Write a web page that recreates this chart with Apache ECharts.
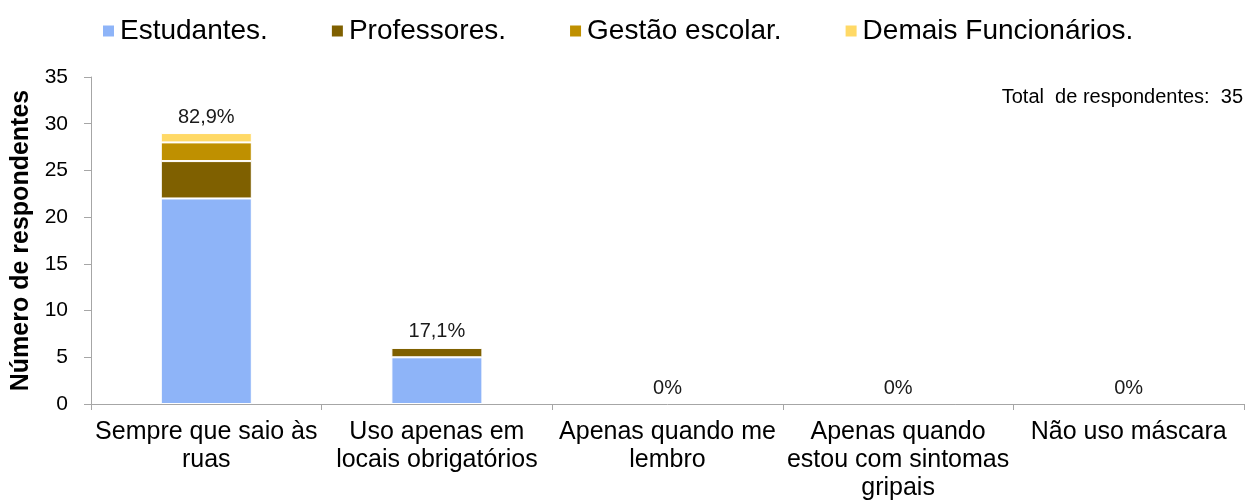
<!DOCTYPE html>
<html>
<head>
<meta charset="utf-8">
<script src="https://cdn.jsdelivr.net/npm/echarts@6/dist/echarts.min.js"></script>
<style>
html,body{margin:0;padding:0;background:#fff;}
#chart{width:1246px;height:502px;}
</style>
</head>
<body>
<div id="chart"></div>
<script>
const categories = ['Sempre que saio às\nruas', 'Uso apenas em\nlocais obrigatórios', 'Apenas quando me\nlembro', 'Apenas quando\nestou com sintomas\ngripais', 'Não uso máscara'];
const seriesNames = ['Estudantes.', 'Professores.', 'Gestão escolar.', 'Demais Funcionários.'];
const estudantes = [22, 5, 0, 0, 0];
const professores = [4, 1, 0, 0, 0];
const gestao = [2, 0, 0, 0, 0];
const demais = [1, 0, 0, 0, 0];
const percentLabels = ['82,9%', '17,1%', '0%', '0%', '0%'];
const totalText = 'Total  de respondentes:  35';
const yTicks = [0, 5, 10, 15, 20, 25, 30, 35];

const colors = ['#8EB4F8', '#7F6000', '#BF9000', '#FFD966'];
const values = [estudantes, professores, gestao, demais];
const font = '"Liberation Sans", Arial, sans-serif';

const series = values.map((v, i) => {
  const s = {
    name: seriesNames[i],
    type: 'bar',
    stack: 'total',
    data: v.map(x => x === 0 ? { value: x, itemStyle: { borderWidth: 0 } } : x),
    barWidth: 91,
    itemStyle: { color: colors[i], borderColor: '#ffffff', borderWidth: 1 }
  };
  if (i === values.length - 1) {
    s.label = {
      show: true,
      position: 'top',
      distance: 6,
      fontFamily: font,
      fontSize: 20,
      color: '#1a1a1a',
      formatter: p => percentLabels[p.dataIndex]
    };
  }
  return s;
});

const chart = echarts.init(document.getElementById('chart'));
chart.setOption({
  animation: false,
  backgroundColor: '#ffffff',
  textStyle: { fontFamily: font },
  legend: {
    data: seriesNames,
    left: 96,
    top: 12,
    itemWidth: 13,
    itemHeight: 13,
    itemGap: 62,
    icon: 'rect',
    textStyle: { fontFamily: font, fontSize: 28, color: '#000' }
  },
  grid: { left: 91, right: 2, top: 77, bottom: 98 },
  xAxis: {
    type: 'category',
    data: categories,
    axisLine: { lineStyle: { color: '#A6A6A6', width: 1 } },
    axisTick: { show: true, length: 6, lineStyle: { color: '#A6A6A6' } },
    axisLabel: { fontFamily: font, fontSize: 25, color: '#000', lineHeight: 28, margin: 14, interval: 0 }
  },
  yAxis: {
    type: 'value',
    min: yTicks[0],
    max: yTicks[yTicks.length - 1],
    interval: 5,
    name: 'Número de respondentes',
    nameLocation: 'middle',
    nameGap: 51,
    nameTextStyle: { fontFamily: font, fontSize: 25, fontWeight: 'bold', color: '#000' },
    axisLine: { show: true, lineStyle: { color: '#A6A6A6', width: 1 } },
    axisTick: { show: true, length: 7, lineStyle: { color: '#A6A6A6' } },
    splitLine: { show: false },
    axisLabel: { fontFamily: font, fontSize: 21, color: '#000', margin: 23 }
  },
  graphic: [{
    type: 'text',
    right: 3,
    top: 87,
    style: { text: totalText, font: '20px "Liberation Sans", Arial, sans-serif', fill: '#000' }
  }],
  series: series
});
</script>
</body>
</html>
